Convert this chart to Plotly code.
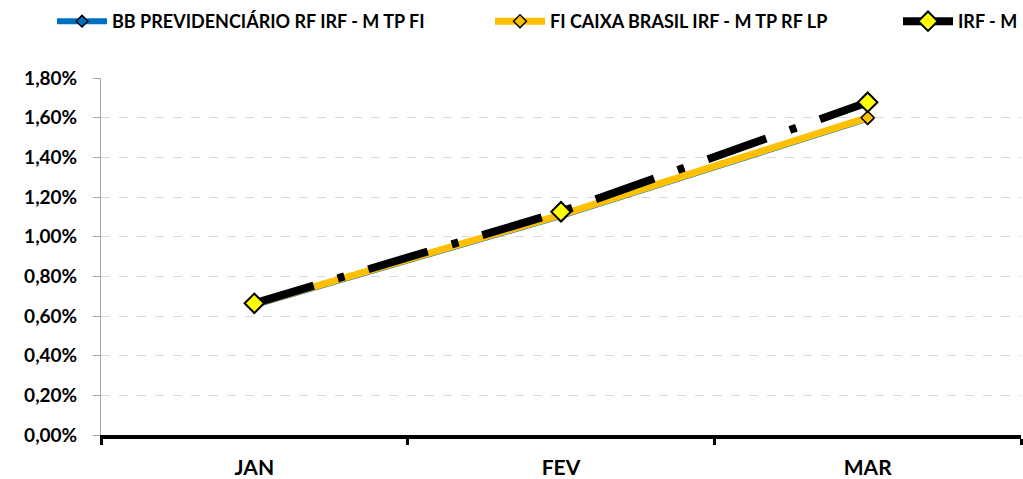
import plotly.graph_objects as go

months = ["JAN", "FEV", "MAR"]
bb_prev = [0.00655, 0.01105, 0.01595]
caixa = [0.00660, 0.01110, 0.01600]
irf_m = [0.00664, 0.01126, 0.01678]
y_ticks = [0, 0.002, 0.004, 0.006, 0.008, 0.010, 0.012, 0.014, 0.016, 0.018]

FONT = "Lato"

fig = go.Figure()
fig.add_trace(go.Scatter(
    x=months, y=bb_prev, name="BB PREVIDENCIÁRIO RF IRF - M TP FI",
    mode="lines+markers", legend="legend",
    line=dict(color="#0070C0", width=6),
    marker=dict(symbol="diamond", size=9, color="#0070C0", line=dict(color="black", width=1.5)),
))
fig.add_trace(go.Scatter(
    x=months, y=caixa, name="FI CAIXA BRASIL IRF - M TP RF LP",
    mode="lines+markers", legend="legend2",
    line=dict(color="#FFC000", width=7),
    marker=dict(symbol="diamond", size=10, color="#FFC000", line=dict(color="black", width=1.5)),
))
fig.add_trace(go.Scatter(
    x=months, y=irf_m, name="IRF - M",
    mode="lines+markers", legend="legend3",
    line=dict(color="black", width=8, dash="62px,25px,7px,25px"),
    marker=dict(symbol="diamond", size=15, color="#FFFF00", line=dict(color="black", width=2)),
))

leg_common = dict(
    orientation="h", yref="container", y=1 - 3 / 479, yanchor="top",
    xref="container", xanchor="left",
    font=dict(family=FONT, size=18, color="black", weight="bold"),
    itemwidth=50, bgcolor="rgba(0,0,0,0)",
)

fig.update_layout(
    width=1023, height=479,
    paper_bgcolor="white", plot_bgcolor="white",
    margin=dict(l=101, r=2, t=78, b=44),
    separators=",.",
    font=dict(family=FONT, color="black"),
    showlegend=True,
    legend=dict(leg_common, x=52 / 1023),
    legend2=dict(leg_common, x=490 / 1023),
    legend3=dict(leg_common, x=898 / 1023),
)
fig.update_xaxes(
    type="category", range=[-0.5, 2.5], automargin=False,
    showline=True, linecolor="black", linewidth=4,
    ticks="outside", tickson="boundaries", ticklen=6, tickwidth=3, tickcolor="black",
    showgrid=False, ticklabelstandoff=11,
    tickfont=dict(family=FONT, size=21, color="black", weight="bold"),
)
fig.update_yaxes(
    range=[0, 0.018], tickvals=y_ticks, tickformat=".2%", automargin=False,
    showline=True, linecolor="#A6A6A6", linewidth=1,
    ticks="outside", ticklen=7, tickcolor="#A6A6A6",
    showgrid=True, gridcolor="#D9D9D9", griddash="dash", gridwidth=1,
    zeroline=False, ticklabelstandoff=12,
    tickfont=dict(family=FONT, size=19, color="black", weight="bold"),
)

fig.write_html("out.html", config={"displayModeBar": False},
               post_script="document.body.style.margin='0';")
